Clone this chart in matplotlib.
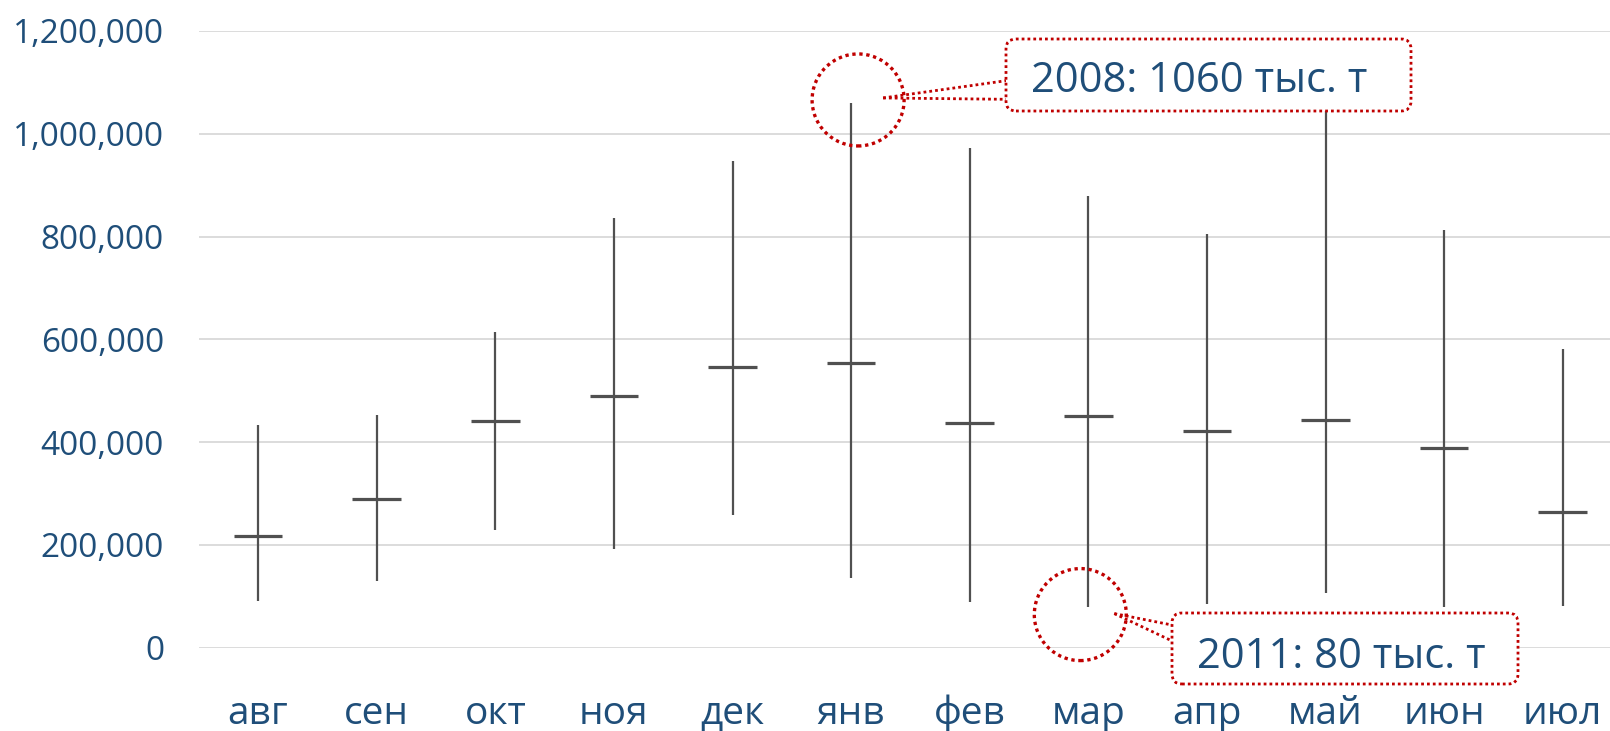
import matplotlib
matplotlib.use('Agg')
import matplotlib.pyplot as plt
from matplotlib.patches import Circle, FancyBboxPatch
from matplotlib.lines import Line2D
from matplotlib.ticker import FuncFormatter, MultipleLocator
from matplotlib.transforms import IdentityTransform

plt.rcParams['font.family'] = ['Open Sans', 'DejaVu Sans']

# monthly range: max / min / average, tonnes
months = ['авг', 'сен', 'окт', 'ноя', 'дек', 'янв', 'фев', 'мар', 'апр', 'май', 'июн', 'июл']
high_vals = [433000, 453000, 615000, 836000, 948000, 1060000, 972000, 878000, 805000, 1080000, 812000, 581000]
low_vals = [90000, 130000, 229000, 192000, 258000, 136000, 88000, 80000, 85000, 107000, 80000, 82000]
mid_vals = [217000, 290000, 442000, 489000, 546000, 554000, 438000, 450000, 422000, 443000, 388000, 264000]

note_max_text = '2008: 1060 тыс. т'
note_min_text = '2011: 80 тыс. т'

W, H = 1610, 731
blue = '#1F4E79'
red = '#C00000'
dark = '#505050'

fig = plt.figure(figsize=(W / 100, H / 100), dpi=100)
ax = fig.add_axes([198.8 / W, (H - 647.7) / H, 1423.2 / W, (647.7 - 31) / H])

x = list(range(len(months)))
ax.vlines(x, low_vals, high_vals, color=dark, lw=1.6, zorder=3)
ax.hlines(mid_vals, [i - 0.205 for i in x], [i + 0.205 for i in x], color=dark, lw=2.3, zorder=3)

ax.set_xlim(-0.5, len(months) - 0.5)
ax.set_ylim(0, 1200000)
ax.yaxis.set_major_locator(MultipleLocator(200000))
ax.yaxis.set_major_formatter(FuncFormatter(lambda v, p: f'{v:,.0f}'))
ax.set_xticks(x)
ax.set_xticklabels(months)
ax.grid(axis='y', color='#D9D9D9', lw=1.3)
ax.set_axisbelow(True)
for s in ax.spines.values():
    s.set_visible(False)
ax.tick_params(axis='y', length=0, pad=25, labelsize=24, labelcolor=blue)
ax.tick_params(axis='x', length=0, pad=34, labelsize=28, labelcolor=blue)


def px(xp, yp_top):
    # pixel position measured from top-left -> display coords
    return xp, H - yp_top


def add_note(idx, val, circ_off, tip_off, ends, box, text, text_pos):
    px0, py0 = ax.transData.transform((idx, val))
    circ = Circle((px0 + circ_off[0], py0 + circ_off[1]), 46, transform=IdentityTransform(),
                  fill=False, ec=red, lw=2.4, ls=(0, (1, 1.1)), zorder=5)
    fig.add_artist(circ)
    tip = (px0 + tip_off[0], py0 + tip_off[1])
    for e in ends:
        ex, ey = px(*e)
        fig.add_artist(Line2D([tip[0], ex], [tip[1], ey], transform=IdentityTransform(),
                              color=red, lw=2.0, ls=(0, (1, 1.1)), zorder=5))
    bx0, by_top, bx1, by_bot = box
    patch = FancyBboxPatch((bx0, H - by_bot), bx1 - bx0, by_bot - by_top,
                           boxstyle='round,pad=0,rounding_size=10', transform=IdentityTransform(),
                           fc='white', ec=red, lw=2.0, ls=(0, (1, 1.1)), zorder=6)
    fig.add_artist(patch)
    tx, ty = px(*text_pos)
    fig.text(tx, ty, text, transform=IdentityTransform(), ha='center', va='center_baseline',
             fontsize=30, color=blue, zorder=7)


# maximum (janv) and minimum (mar) callouts
add_note(5, high_vals[5], (7, 3), (32, 5), [(1006, 80.7), (1006, 99.3)],
         (1006, 39, 1411, 111), note_max_text, (1199, 76))
add_note(7, low_vals[7], (-8, -8), (26, -7), [(1172, 625), (1170, 640)],
         (1172, 613, 1518, 684), note_min_text, (1341, 652))

fig.savefig('out.png', dpi=100)
